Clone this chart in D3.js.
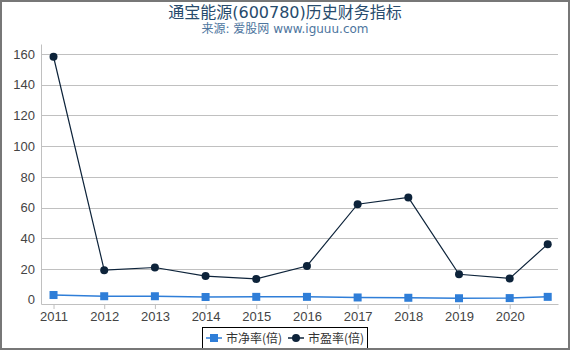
<!DOCTYPE html>
<html>
<head>
<meta charset="utf-8">
<script src="https://cdn.jsdelivr.net/npm/d3@7"></script>
<style>
  body { margin: 0; background: #fff; }
  svg { display: block; font-family: "DejaVu Sans", "Noto Sans CJK SC", sans-serif; }
</style>
</head>
<body>
<div id="chart"></div>
<script>
// 数据
const years = [2011, 2012, 2013, 2014, 2015, 2016, 2017, 2018, 2019, 2020, 2020.75];
const tickYears = [2011, 2012, 2013, 2014, 2015, 2016, 2017, 2018, 2019, 2020];
const pbValues = [3.1, 2.3, 2.3, 1.8, 1.9, 1.9, 1.5, 1.3, 1.0, 1.1, 1.9];
const peValues = [158.2, 19.3, 21.0, 15.4, 13.6, 22.0, 62.2, 66.6, 16.6, 13.9, 36.2];
const yTicks = [0, 20, 40, 60, 80, 100, 120, 140, 160];
const seriesNames = ['市净率(倍)', '市盈率(倍)'];

const width = 570;
const height = 350;
const plotLeft = 41, plotRight = 558, plotTop = 44, plotBottom = 304;
const colorPB = '#2f7ed8';
const colorPE = '#0d233a';

const svg = d3.select('#chart').append('svg')
    .attr('width', width)
    .attr('height', height);

// 比例尺
const xScale = d3.scaleLinear()
    .domain([2010.753, 2020.953])
    .range([plotLeft, plotRight]);
const yScale = d3.scaleLinear()
    .domain([-2.75, 166.5])
    .range([plotBottom, plotTop]);

// 标题
svg.append('text')
    .attr('x', width / 2).attr('y', 18)
    .attr('text-anchor', 'middle')
    .attr('font-size', 16)
    .attr('fill', '#274b6d')
    .text('通宝能源(600780)历史财务指标');
svg.append('text')
    .attr('x', width / 2).attr('y', 33)
    .attr('text-anchor', 'middle')
    .attr('font-size', 12)
    .attr('fill', '#4d759e')
    .text('来源: 爱股网 www.iguuu.com');

// 网格线
svg.append('g')
    .selectAll('line')
    .data(yTicks.filter((d) => d > 0))
    .join('line')
    .attr('x1', plotLeft).attr('x2', plotRight)
    .attr('y1', (d) => Math.round(yScale(d)) + 0.5)
    .attr('y2', (d) => Math.round(yScale(d)) + 0.5)
    .attr('stroke', '#c0c0c0')
    .attr('stroke-width', 1);

// y轴
const yAxis = d3.axisLeft(yScale)
    .tickValues(yTicks)
    .tickSize(0)
    .tickPadding(6)
    .tickFormat(d3.format('d'));
const gy = svg.append('g')
    .attr('transform', `translate(${plotLeft},0)`)
    .call(yAxis);
gy.select('.domain').attr('stroke', '#c0c0c0');
gy.selectAll('text').attr('font-size', 13).attr('fill', '#444');

// x轴
const xAxis = d3.axisBottom(xScale)
    .tickValues(tickYears)
    .tickSize(5)
    .tickPadding(3)
    .tickSizeOuter(0)
    .tickFormat(d3.format('d'));
const gx = svg.append('g')
    .attr('transform', `translate(0,${plotBottom})`)
    .call(xAxis);
gx.select('.domain').attr('stroke', '#c0c0c0');
gx.selectAll('.tick line').attr('stroke', '#c0c0c0');
gx.selectAll('text').attr('font-size', 13).attr('fill', '#444');

// 折线
const line = d3.line()
    .x((d) => xScale(d[0]))
    .y((d) => yScale(d[1]));

const pbData = years.map((y, i) => [y, pbValues[i]]);
const peData = years.map((y, i) => [y, peValues[i]]);

svg.append('path')
    .attr('d', line(pbData))
    .attr('fill', 'none')
    .attr('stroke', colorPB)
    .attr('stroke-width', 1.5);
svg.append('g')
    .selectAll('rect')
    .data(pbData)
    .join('rect')
    .attr('x', (d) => xScale(d[0]) - 4)
    .attr('y', (d) => yScale(d[1]) - 4)
    .attr('width', 8).attr('height', 8)
    .attr('fill', colorPB);

svg.append('path')
    .attr('d', line(peData))
    .attr('fill', 'none')
    .attr('stroke', colorPE)
    .attr('stroke-width', 1.2);
svg.append('g')
    .selectAll('circle')
    .data(peData)
    .join('circle')
    .attr('cx', (d) => xScale(d[0]))
    .attr('cy', (d) => yScale(d[1]))
    .attr('r', 4)
    .attr('fill', colorPE);

// 图例
const legend = svg.append('g');
legend.append('rect')
    .attr('x', 202.5).attr('y', 327.5)
    .attr('width', 165).attr('height', 21)
    .attr('fill', '#fff')
    .attr('stroke', '#000')
    .attr('stroke-width', 1);
const items = [
    { name: seriesNames[0], color: colorPB, shape: 'square', x: 206 },
    { name: seriesNames[1], color: colorPE, shape: 'circle', x: 288 }
];
items.forEach((it) => {
    legend.append('line')
        .attr('x1', it.x).attr('x2', it.x + 16)
        .attr('y1', 338).attr('y2', 338)
        .attr('stroke', it.color)
        .attr('stroke-width', 1.5);
    if (it.shape === 'square') {
        legend.append('rect')
            .attr('x', it.x + 4).attr('y', 334)
            .attr('width', 8).attr('height', 8)
            .attr('fill', it.color);
    } else {
        legend.append('circle')
            .attr('cx', it.x + 8).attr('cy', 338)
            .attr('r', 4)
            .attr('fill', it.color);
    }
    legend.append('text')
        .attr('x', it.x + 20).attr('y', 343)
        .attr('font-size', 12)
        .attr('fill', '#333')
        .attr('font-family', '"Noto Sans CJK SC", "DejaVu Sans", sans-serif')
        .text(it.name);
});

// 外框
svg.append('rect')
    .attr('x', 1).attr('y', 1)
    .attr('width', width - 2).attr('height', height - 2)
    .attr('fill', 'none')
    .attr('stroke', '#777')
    .attr('stroke-width', 2);
</script>
</body>
</html>
